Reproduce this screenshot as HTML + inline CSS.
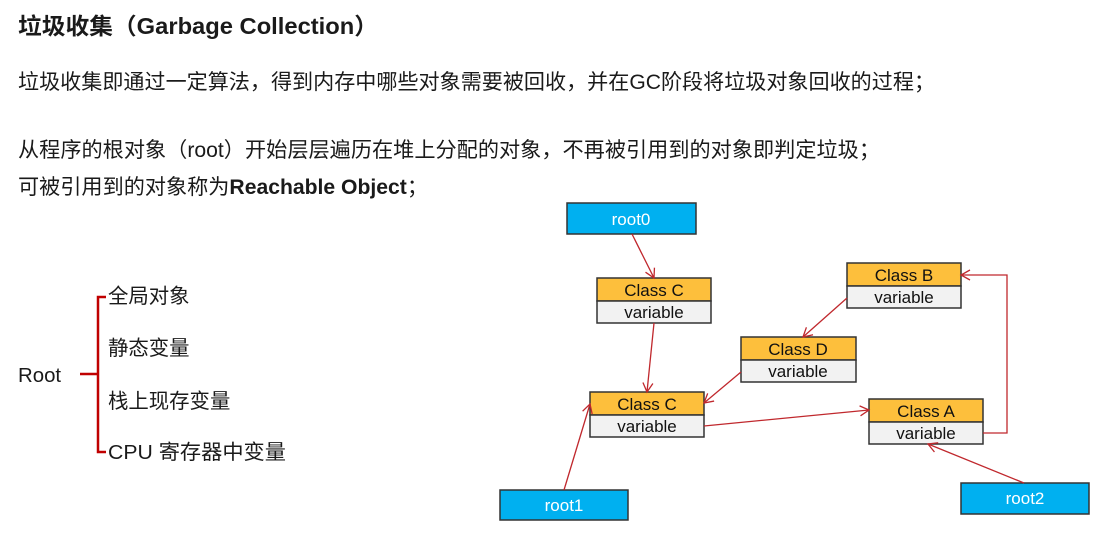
<!DOCTYPE html>
<html><head><meta charset="utf-8"><style>
html,body{margin:0;padding:0;background:#fff;}
body{width:1096px;height:538px;overflow:hidden;position:relative;}
svg{position:absolute;left:0;top:0;}
.t{font-family:"Liberation Sans","Noto Sans CJK SC",sans-serif;fill:#1a1a1a;}
.b{font-family:"Liberation Sans",Arial,sans-serif;font-size:17px;fill:#111;text-anchor:middle;}
</style></head><body>
<svg width="1096" height="538" viewBox="0 0 1096 538">
<defs><marker id="a" markerWidth="12" markerHeight="12" refX="10" refY="6" orient="auto" markerUnits="userSpaceOnUse"><path d="M1,1 L10,6 L1,11" fill="none" stroke="#c0282d" stroke-width="1.3"/></marker></defs>
<text class="t" x="18" y="34" font-size="23" font-weight="bold" textLength="360" lengthAdjust="spacingAndGlyphs">垃圾收集（Garbage Collection）</text>
<text class="t" x="18" y="89" font-size="21" textLength="917" lengthAdjust="spacingAndGlyphs">垃圾收集即通过一定算法，得到内存中哪些对象需要被回收，并在GC阶段将垃圾对象回收的过程；</text>
<text class="t" x="18" y="157" font-size="21" textLength="862" lengthAdjust="spacingAndGlyphs">从程序的根对象（root）开始层层遍历在堆上分配的对象，不再被引用到的对象即判定垃圾；</text>
<text class="t" x="18" y="194" font-size="21" textLength="410" lengthAdjust="spacingAndGlyphs">可被引用到的对象称为<tspan font-weight="bold">Reachable Object</tspan>；</text>
<text class="t" x="18" y="382" font-size="20.4">Root</text>
<path d="M80,374 H98 M106,297 H98 V452 H106" fill="none" stroke="#c00000" stroke-width="2.5"/>
<text class="t" x="108" y="303" font-size="20.4">全局对象</text>
<text class="t" x="108" y="355" font-size="20.4">静态变量</text>
<text class="t" x="108" y="408" font-size="20.4">栈上现存变量</text>
<text class="t" x="108" y="459" font-size="20.4" textLength="178" lengthAdjust="spacingAndGlyphs">CPU 寄存器中变量</text>
<g stroke="#333" stroke-width="1.5">
<rect x="567" y="203" width="129" height="31" fill="#00b0f0"/>
<rect x="500" y="490" width="128" height="30" fill="#00b0f0"/>
<rect x="961" y="483" width="128" height="31" fill="#00b0f0"/>
<rect x="597" y="278" width="114" height="23" fill="#fdbf3c"/><rect x="597" y="301" width="114" height="22" fill="#f2f2f2"/>
<rect x="847" y="263" width="114" height="23" fill="#fdbf3c"/><rect x="847" y="286" width="114" height="22" fill="#f2f2f2"/>
<rect x="741" y="337" width="115" height="23" fill="#fdbf3c"/><rect x="741" y="360" width="115" height="22" fill="#f2f2f2"/>
<rect x="590" y="392" width="114" height="23" fill="#fdbf3c"/><rect x="590" y="415" width="114" height="22" fill="#f2f2f2"/>
<rect x="869" y="399" width="114" height="23" fill="#fdbf3c"/><rect x="869" y="422" width="114" height="22" fill="#f2f2f2"/>
</g>
<text class="b" x="631" y="225" style="fill:#fff">root0</text>
<text class="b" x="564" y="511" style="fill:#fff">root1</text>
<text class="b" x="1025" y="504" style="fill:#fff">root2</text>
<text class="b" x="654" y="296">Class C</text><text class="b" x="654" y="318">variable</text>
<text class="b" x="904" y="281">Class B</text><text class="b" x="904" y="303">variable</text>
<text class="b" x="798" y="355">Class D</text><text class="b" x="798" y="377">variable</text>
<text class="b" x="647" y="410">Class C</text><text class="b" x="647" y="432">variable</text>
<text class="b" x="926" y="417">Class A</text><text class="b" x="926" y="439">variable</text>
<g stroke="#c0282d" stroke-width="1.3" fill="none" marker-end="url(#a)">
<path d="M632,234 L654,278"/>
<path d="M654,323 L647,392"/>
<path d="M847,298 L803,337"/>
<path d="M741,372 L704,403"/>
<path d="M704,426 L869,410"/>
<path d="M983,433 H1007 V275 H961"/>
<path d="M1024,483 L928,444"/>
<path d="M564,490 L590,404"/>
</g>
</svg>
</body></html>
